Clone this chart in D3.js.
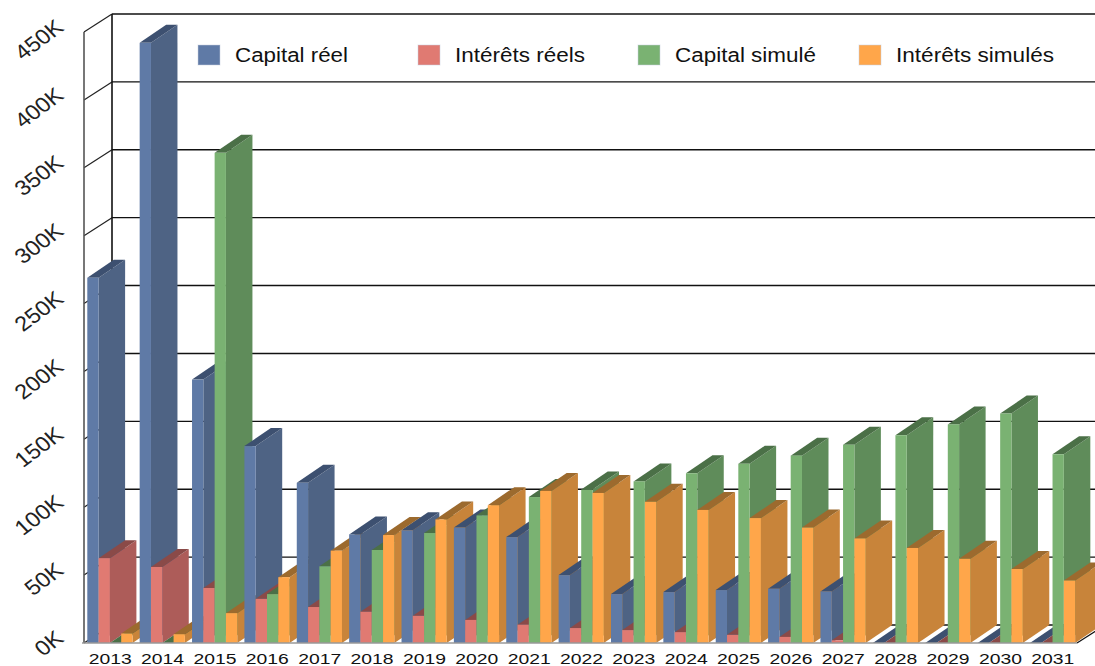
<!DOCTYPE html>
<html><head><meta charset="utf-8">
<script src="https://cdn.jsdelivr.net/npm/d3@7/dist/d3.min.js"></script>
<style>html,body{margin:0;background:#fff}svg{display:block;font-family:"Liberation Sans",Arial,sans-serif}</style>
</head><body><svg id="c" width="1095" height="666"></svg>
<script>
const years=["2013","2014","2015","2016","2017","2018","2019","2020","2021","2022","2023","2024","2025","2026","2027","2028","2029","2030","2031"];
const capitalReel=[269,442,194,145,118,80,83,85,78,50,36,37.5,39,40,38,0,0,0,0];
const interetsReels=[62.5,56,40.5,32.5,26.5,23,20,17,13.5,11,9.5,8,6,4.5,2,0,0,0,0];
const capitalSimule=[0,0,361,36,56.5,68.5,81,94,107.5,113,119,125,132,138,146,153,161,169,139];
const interetsSimules=[7,6.5,22,48.5,68,79.5,91,101.5,112,110.5,104,98,92,85,77,70,62,54.5,46];
const seriesNames=["Capital réel","Intérêts réels","Capital simulé","Intérêts simulés"];
const seriesValues=[capitalReel,interetsReels,capitalSimule,interetsSimules];
const yTicks=[0,50,100,150,200,250,300,350,400,450];
const palette=[
 {front:"#5f7aa6",side:"#4e6384",top:"#3d5070"},
 {front:"#e07a72",side:"#ad5c59",top:"#8a4a48"},
 {front:"#7ab272",side:"#5f8c5a",top:"#4b7047"},
 {front:"#ffa64a",side:"#c8843a",top:"#9c6a2e"}];
const legendX=[198,418,638,859];
const legendW=[113,130,141,158];

const svg=d3.select("#c");
const x0=84,x1=1079,yBase=643,yTop=32,depthX=28,depthY=18,barDX=26.5;
const x=d3.scaleBand().domain(years).range([x0,x1]);
const s=d3.scaleBand().domain(d3.range(4)).range([3.3,3.3+45.2]);
const y=d3.scaleLinear().domain([0,450]).range([yBase,yTop]);

// back wall grid
const g=svg.append("g");
yTicks.forEach(t=>{
  const yy=y(t);
  if(t>0) g.append("line").attr("x1",x0+depthX).attr("x2",1095).attr("y1",yy-depthY).attr("y2",yy-depthY).attr("stroke","#111").attr("stroke-width",t==450?1.6:1.4);
  g.append("line").attr("x1",x0).attr("x2",x0+depthX).attr("y1",yy).attr("y2",yy-depthY).attr("stroke","#222").attr("stroke-width",1.2);
});
g.append("line").attr("x1",x0+depthX).attr("x2",1095).attr("y1",y(0)-depthY).attr("y2",y(0)-depthY).attr("stroke","#111").attr("stroke-width",1.4);
g.append("line").attr("x1",x0+depthX).attr("x2",x0+depthX).attr("y1",y(450)-depthY).attr("y2",y(0)-depthY).attr("stroke","#111").attr("stroke-width",1.6);
g.append("line").attr("x1",x1-2).attr("x2",x1-2+depthX).attr("y1",yBase).attr("y2",yBase-depthY).attr("stroke","#111").attr("stroke-width",1.2);

// bars, painted left to right
const bars=svg.append("g");
years.forEach((yr,i)=>{
  seriesValues.forEach((vals,k)=>{
    const v=vals[i],c=palette[k],bx=x(yr)+s(k),w=s.bandwidth(),ty=y(v),bb=y(0);
    const b=bars.append("g");
    b.append("path").attr("fill",c.side).attr("d",`M${bx+w},${ty}L${bx+w+barDX},${ty-depthY}L${bx+w+barDX},${bb-depthY}L${bx+w},${bb}Z`);
    b.append("path").attr("fill",c.top).attr("d",`M${bx},${ty}L${bx+barDX},${ty-depthY}L${bx+w+barDX},${ty-depthY}L${bx+w},${ty}Z`);
    if(v>0) b.append("rect").attr("x",bx).attr("y",ty).attr("width",w).attr("height",bb-ty).attr("fill",c.front);
  });
});

// front axes
svg.append("line").attr("x1",x0).attr("x2",x0).attr("y1",yTop).attr("y2",yBase).attr("stroke","#555").attr("stroke-width",1.6);
svg.append("line").attr("x1",x0-2).attr("x2",x1-2).attr("y1",yBase).attr("y2",yBase).attr("stroke","#999").attr("stroke-width",1.6);

// axis labels
const ay=svg.append("g").attr("transform",`translate(${x0},0)`).call(d3.axisLeft(y).tickValues(yTicks).tickSize(0).tickFormat(d=>d+"K"));
ay.select(".domain").remove();
ay.selectAll("text").attr("x",0).attr("y",0).attr("dy",0).attr("font-size",21).attr("fill","#222").attr("font-family","Liberation Sans")
  .attr("text-anchor","end").attr("transform","translate(-19,-3) scale(1.12,1) rotate(-40)");
const ax=svg.append("g").attr("transform",`translate(0,${yBase})`).call(d3.axisBottom(x).tickSize(0));
ax.select(".domain").remove();
ax.selectAll("text").attr("y",0).attr("dy",21).attr("font-size",15.5).attr("fill","#111").attr("font-family","Liberation Sans")
  .attr("textLength",43).attr("lengthAdjust","spacingAndGlyphs");

// legend
const lg=svg.append("g");
seriesNames.forEach((n,k)=>{
  lg.append("rect").attr("x",legendX[k]).attr("y",45).attr("width",22).attr("height",20).attr("fill",palette[k].front).attr("stroke","#c9d2e0").attr("stroke-opacity",.5);
  lg.append("text").attr("x",legendX[k]+37).attr("y",62).attr("font-size",20).attr("fill","#111")
    .attr("textLength",legendW[k]).attr("lengthAdjust","spacingAndGlyphs").text(n);
});
</script></body></html>
